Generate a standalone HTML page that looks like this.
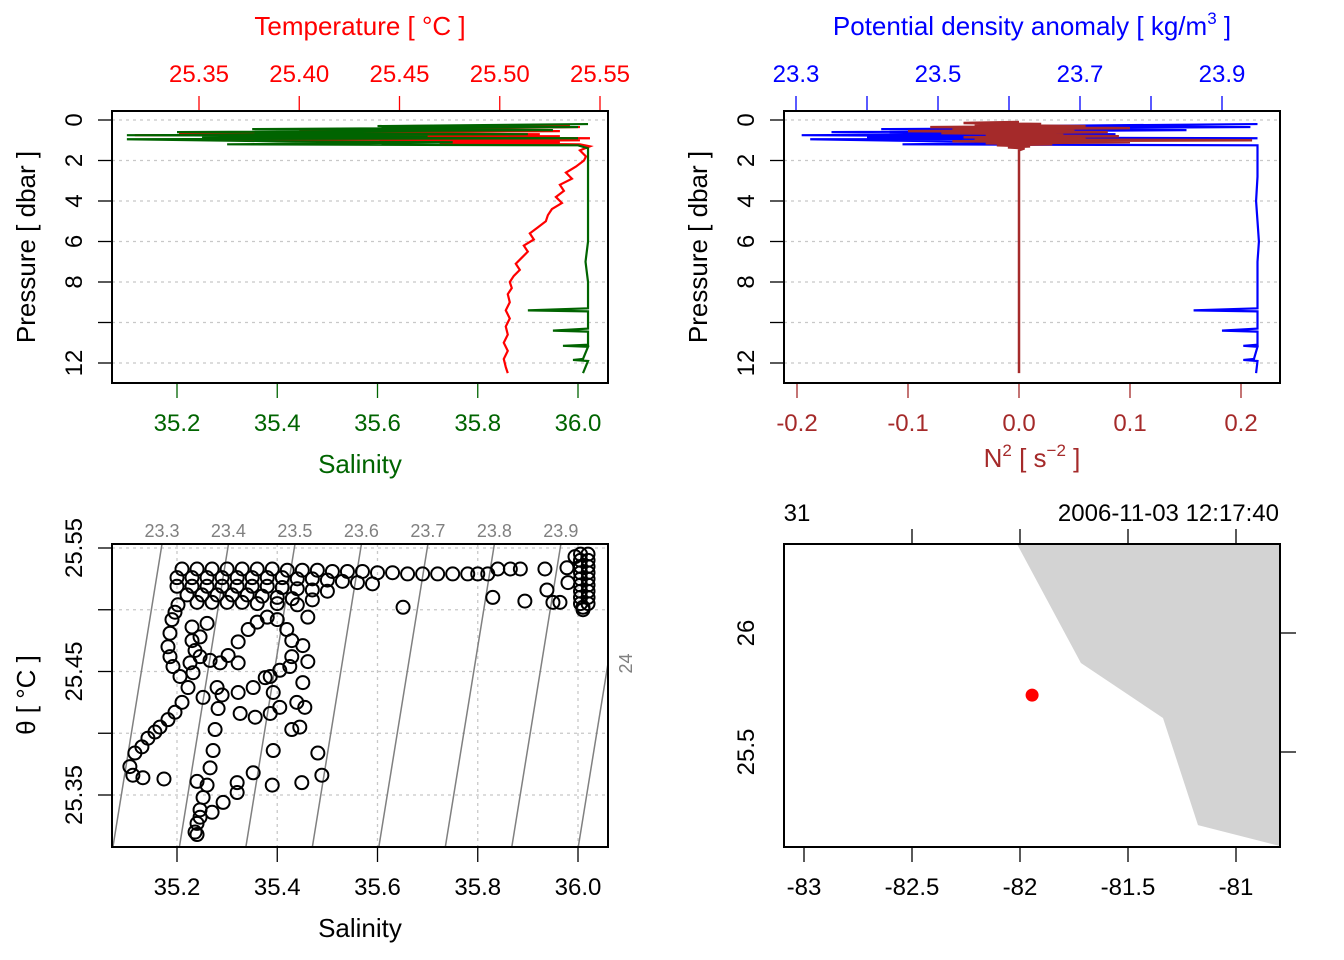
<!DOCTYPE html>
<html><head><meta charset="utf-8"><style>
html,body{margin:0;padding:0;background:#fff}
svg{display:block;font-family:"Liberation Sans",Arial,sans-serif}
</style></head><body>
<svg id="fig" width="1344" height="960" viewBox="0 0 1344 960" xmlns="http://www.w3.org/2000/svg">
<defs>
<clipPath id="c1"><rect x="112" y="111" width="496" height="272"/></clipPath>
<clipPath id="c2"><rect x="784" y="111" width="496" height="272"/></clipPath>
<clipPath id="c3"><rect x="112" y="544" width="496" height="303"/></clipPath>
<clipPath id="c4"><rect x="784" y="544" width="496" height="303"/></clipPath>
</defs>
</svg>
<script>
// ---------- data ----------
const pressureTicks=[0,2,4,6,8,10,12];
const pressureLabels=["0","2","4","6","8","","12"];
const salTicks=[35.2,35.4,35.6,35.8,36.0];
const salLabels=["35.2","35.4","35.6","35.8","36.0"];
const tempTicks=[25.35,25.40,25.45,25.50,25.55];
const tempLabels=["25.35","25.40","25.45","25.50","25.55"];
const sigTicks=[23.3,23.4,23.5,23.6,23.7,23.8,23.9];
const sigLabels=["23.3","","23.5","","23.7","","23.9"];
const n2Ticks=[-0.2,-0.1,0.0,0.1,0.2];
const n2Labels=["-0.2","-0.1","0.0","0.1","0.2"];
const thetaTicks=[25.55,25.50,25.45,25.40,25.35];
const thetaLabels=["25.55","","25.45","","25.35"];
const isoLevels=[23.3,23.4,23.5,23.6,23.7,23.8,23.9,24.0];
const isoLabels=["23.3","23.4","23.5","23.6","23.7","23.8","23.9","24"];
const lonTicks=[-83,-82.5,-82,-81.5,-81];
const lonLabels=["-83","-82.5","-82","-81.5","-81"];
const latTicks=[26,25.5];
const latLabels=["26","25.5"];

const tempP=[0.25,0.3,0.35,0.5,0.55,0.65,0.7,0.75,0.8,0.85,0.9,0.95,1.0,1.05,1.1,1.15,1.2,1.3,1.5,1.8,2.0,2.3,2.6,2.9,3.2,3.5,3.8,4.1,4.4,4.7,5.0,5.3,5.6,5.9,6.2,6.5,6.8,7.1,7.4,7.7,8.0,8.3,8.6,9.0,9.4,9.8,10.2,10.6,11.0,11.4,11.8,12.2,12.5];
const tempT=[25.535,25.45,25.54,25.40,25.53,25.34,25.52,25.318,25.53,25.42,25.545,25.35,25.54,25.44,25.53,25.47,25.54,25.545,25.54,25.543,25.542,25.538,25.533,25.536,25.53,25.532,25.528,25.531,25.526,25.524,25.523,25.519,25.515,25.517,25.512,25.514,25.511,25.508,25.510,25.507,25.505,25.506,25.504,25.505,25.503,25.505,25.503,25.504,25.502,25.504,25.502,25.503,25.504];

const salP=[0.2,0.3,0.35,0.45,0.5,0.6,0.7,0.75,0.8,0.85,0.9,0.95,1.05,1.1,1.2,1.25,1.4,2,3,4,5,6,7,8,9.3,9.4,9.45,10.3,10.4,10.45,11.1,11.15,11.2,11.8,11.85,11.9,12.5];
const salS=[36.02,35.6,36.0,35.35,35.95,35.2,35.9,35.1,35.7,35.25,36.0,35.1,35.4,35.75,35.3,36.0,36.02,36.02,36.02,36.02,36.02,36.02,36.015,36.02,36.02,35.9,36.02,36.02,35.95,36.02,36.02,35.97,36.02,36.01,35.99,36.02,36.01];

const sigP=[0.2,0.3,0.35,0.45,0.5,0.6,0.7,0.75,0.8,0.85,0.9,0.95,1.05,1.1,1.2,1.25,1.4,2,2.8,4,5,6,7,8,9.3,9.4,9.45,10.3,10.4,10.45,11.1,11.15,11.2,11.8,11.85,11.9,12.5];
const sigV=[23.95,23.62,23.94,23.42,23.85,23.35,23.75,23.308,23.62,23.40,23.95,23.32,23.50,23.70,23.45,23.95,23.95,23.95,23.95,23.948,23.95,23.952,23.95,23.95,23.95,23.86,23.95,23.95,23.90,23.95,23.95,23.93,23.95,23.945,23.93,23.95,23.948];

const n2P=[0.1,0.15,0.2,0.25,0.3,0.35,0.4,0.45,0.5,0.55,0.6,0.65,0.7,0.75,0.8,0.85,0.9,0.95,1.0,1.05,1.1,1.15,1.2,1.25,1.3,1.35,1.4,1.5,2,4,6,8,10,12,12.5];
const n2V=[0.0,-0.05,0.02,-0.04,0.06,-0.08,0.1,-0.06,0.05,-0.1,0.08,-0.07,0.04,-0.03,0.09,-0.05,0.06,-0.04,0.21,-0.06,0.1,-0.03,0.03,-0.02,0.01,-0.01,0.005,0,0,0,0,0,0,0,0];

const tsS=[
35.21,35.24,35.27,35.30,35.33,35.36,35.39,35.42,35.45,35.48,35.51,35.54,35.57,35.60,35.63,35.66,35.69,35.72,35.75,35.78,35.80,35.82,
35.20,35.23,35.26,35.29,35.32,35.35,35.38,35.41,35.44,35.47,35.50,35.53,35.56,35.59,
35.20,35.23,35.26,35.29,35.32,35.35,35.38,35.41,35.44,35.47,35.50,
35.22,35.25,35.28,35.31,35.34,35.37,35.40,35.43,35.47,
35.24,35.27,35.30,35.33,35.36,35.40,35.44,
36.005,36.02,36.005,36.02,36.005,36.02,36.005,36.02,36.005,36.02,36.005,36.02,36.005,36.02,36.005,36.02,36.005,36.02,36.01,36.01,
35.202,35.196,35.190,35.186,35.182,35.186,35.192,35.206,35.222,35.210,35.196,35.182,35.166,35.156,35.142,35.130,35.116,35.106,35.112,35.132,35.174,
35.230,35.230,35.236,35.246,35.266,35.286,35.302,35.322,35.322,35.342,35.360,35.380,35.400,35.419,35.429,35.429,35.425,35.405,35.386,35.392,35.405,
35.451,35.461,35.461,35.451,35.439,35.455,35.445,35.429,35.392,35.481,35.489,35.449,35.390,35.352,35.320,35.320,35.292,35.270,35.252,35.260,35.240,
35.246,35.246,35.240,35.236,35.240,35.266,35.272,35.276,35.282,35.280,35.290,35.252,35.322,35.352,35.376,35.356,35.326,35.386,35.232,35.226,35.260,35.246,
35.651,35.830,35.894,35.938,35.934,35.978,35.980,35.950,35.964,35.994,35.84,35.865,35.885];
const tsT=[
25.533,25.533,25.533,25.533,25.533,25.533,25.533,25.532,25.532,25.532,25.531,25.531,25.531,25.530,25.530,25.529,25.529,25.529,25.529,25.529,25.529,25.529,
25.526,25.526,25.526,25.526,25.526,25.526,25.526,25.526,25.525,25.525,25.524,25.523,25.522,25.521,
25.519,25.519,25.519,25.519,25.519,25.519,25.519,25.518,25.517,25.516,25.515,
25.512,25.512,25.512,25.512,25.512,25.511,25.510,25.509,25.508,
25.506,25.506,25.506,25.506,25.505,25.505,25.504,
25.545,25.545,25.540,25.540,25.535,25.535,25.530,25.530,25.525,25.525,25.520,25.520,25.515,25.515,25.510,25.510,25.505,25.505,25.500,25.502,
25.504,25.498,25.492,25.481,25.470,25.462,25.454,25.446,25.437,25.425,25.417,25.411,25.405,25.401,25.396,25.389,25.384,25.373,25.366,25.364,25.363,
25.486,25.475,25.467,25.462,25.459,25.457,25.463,25.457,25.474,25.484,25.490,25.494,25.492,25.484,25.475,25.462,25.454,25.451,25.446,25.433,25.421,
25.471,25.494,25.458,25.441,25.425,25.421,25.405,25.403,25.386,25.384,25.366,25.360,25.358,25.368,25.360,25.352,25.344,25.336,25.348,25.358,25.361,
25.338,25.332,25.327,25.320,25.318,25.372,25.386,25.403,25.420,25.437,25.431,25.429,25.433,25.437,25.445,25.413,25.416,25.416,25.449,25.457,25.489,25.478,
25.502,25.510,25.507,25.516,25.533,25.534,25.522,25.506,25.506,25.543,25.533,25.533,25.533];

const landLon=[-82.3,-82.014,-81.718,-81.338,-81.176,-80.796,-80.6,-80.6];
const landLat=[26.9,26.374,25.874,25.643,25.193,25.105,25.0,26.9];
const stationLon=[-81.944];
const stationLat=[25.739];

// ---------- scales ----------
const xSal=s=>177+(s-35.2)*501.25;
const xTemp=t=>199+(t-25.35)*2005;
const yP=p=>120+p*20.25;
const xSig=s=>796+(s-23.3)*710;
const xN2=n=>1019+n*1110;
const yTh=t=>548+(25.55-t)*1235;
const xLon=l=>804+(l+83)*216;
const yLat=l=>633+(26-l)*238;
const sAt=(sig,th)=>35.170+((sig-23.3)+0.301*(th-25.553))/0.754;

const FS=24, TS=26;
const svg=document.getElementById('fig');
const NS='http://www.w3.org/2000/svg';
function mk(tag,attrs,parent){const e=document.createElementNS(NS,tag);for(const k in attrs)e.setAttribute(k,attrs[k]);(parent||svg).appendChild(e);return e;}
function txt(x,y,s,opt,parent){const e=mk('text',Object.assign({x:x,y:y,'font-size':FS,'text-anchor':'middle'},opt||{}),parent);e.textContent=s;return e;}
function grp(){return mk('g',{});}

// ===== Panel 1 =====
let g=grp();


pressureTicks.forEach((p,i)=>{
  mk('line',{x1:112,x2:608,y1:yP(p),y2:yP(p),stroke:'#c8c8c8','stroke-width':1.3,'stroke-dasharray':'3,4'},g);
  mk('line',{x1:112,x2:98,y1:yP(p),y2:yP(p),stroke:'#000','stroke-width':1.3},g);
  if(pressureLabels[i]){const t=txt(0,0,pressureLabels[i],{transform:'translate(82,'+yP(p)+') rotate(-90)'},g);
  }
});
let t=txt(0,0,'Pressure [ dbar ]',{'font-size':TS,transform:'translate(35,247) rotate(-90)'},g);

salTicks.forEach((s,i)=>{mk('line',{x1:xSal(s),x2:xSal(s),y1:383,y2:398,stroke:'#006400','stroke-width':1.3},g);
  const l=txt(xSal(s),431,salLabels[i],{fill:'#006400'},g);});
t=txt(360,473,'Salinity',{'font-size':TS,fill:'#006400'},g);
tempTicks.forEach((s,i)=>{mk('line',{x1:xTemp(s),x2:xTemp(s),y1:111,y2:96,stroke:'#ff0000','stroke-width':1.3},g);
  const l=txt(xTemp(s),82,tempLabels[i],{fill:'#ff0000'},g);});
t=txt(360,35,'Temperature [ °C ]',{'font-size':TS,fill:'#ff0000'},g);
let cg=mk('g',{'clip-path':'url(#c1)'},g);
let pl=mk('polyline',{points:tempP.map((p,i)=>xTemp(tempT[i])+','+yP(p)).join(' '),fill:'none',stroke:'#ff0000','stroke-width':2.2},cg);

pl=mk('polyline',{points:salP.map((p,i)=>xSal(salS[i])+','+yP(p)).join(' '),fill:'none',stroke:'#006400','stroke-width':2.2},cg);

let b=mk('rect',{x:112,y:111,width:496,height:272,fill:'none',stroke:'#000','stroke-width':2},g);


// ===== Panel 2 =====
g=grp();


pressureTicks.forEach((p,i)=>{
  mk('line',{x1:784,x2:1280,y1:yP(p),y2:yP(p),stroke:'#c8c8c8','stroke-width':1.3,'stroke-dasharray':'3,4'},g);
  mk('line',{x1:784,x2:770,y1:yP(p),y2:yP(p),stroke:'#000','stroke-width':1.3},g);
  if(pressureLabels[i]){const t=txt(0,0,pressureLabels[i],{transform:'translate(754,'+yP(p)+') rotate(-90)'},g);
  }
});
t=txt(0,0,'Pressure [ dbar ]',{'font-size':TS,transform:'translate(707,247) rotate(-90)'},g);

sigTicks.forEach((s,i)=>{mk('line',{x1:xSig(s),x2:xSig(s),y1:111,y2:96,stroke:'#0000ff','stroke-width':1.3},g);
  if(sigLabels[i]){const l=txt(xSig(s),82,sigLabels[i],{fill:'#0000ff'},g);}});
t=mk('text',{x:1032,y:35,'font-size':TS,'text-anchor':'middle',fill:'#0000ff'},g);
t.innerHTML='Potential density anomaly [ kg/m<tspan dy="-11" font-size="17">3</tspan><tspan dy="11"> ]</tspan>';

n2Ticks.forEach((s,i)=>{mk('line',{x1:xN2(s),x2:xN2(s),y1:383,y2:398,stroke:'#a52a2a','stroke-width':1.3},g);
  const l=txt(xN2(s),431,n2Labels[i],{fill:'#a52a2a'},g);});
t=mk('text',{x:1032,y:467,'font-size':TS,'text-anchor':'middle',fill:'#a52a2a'},g);
t.innerHTML='N<tspan dy="-11" font-size="17">2</tspan><tspan dy="11"> [ s</tspan><tspan dy="-11" font-size="17">−2</tspan><tspan dy="11"> ]</tspan>';

cg=mk('g',{'clip-path':'url(#c2)'},g);
pl=mk('polyline',{points:sigP.map((p,i)=>xSig(sigV[i])+','+yP(p)).join(' '),fill:'none',stroke:'#0000ff','stroke-width':2.2},cg);

pl=mk('polyline',{points:n2P.map((p,i)=>xN2(n2V[i])+','+yP(p)).join(' '),fill:'none',stroke:'#a52a2a','stroke-width':2.5},cg);

b=mk('rect',{x:784,y:111,width:496,height:272,fill:'none',stroke:'#000','stroke-width':2},g);


// ===== Panel 3 =====
g=grp();


salTicks.forEach(s=>mk('line',{x1:xSal(s),x2:xSal(s),y1:544,y2:847,stroke:'#c8c8c8','stroke-width':1.3,'stroke-dasharray':'3,4'},g));
thetaTicks.forEach(s=>mk('line',{x1:112,x2:608,y1:yTh(s),y2:yTh(s),stroke:'#c8c8c8','stroke-width':1.3,'stroke-dasharray':'3,4'},g));
salTicks.forEach((s,i)=>{mk('line',{x1:xSal(s),x2:xSal(s),y1:847,y2:862,stroke:'#000','stroke-width':1.3},g);
  const l=txt(xSal(s),895,salLabels[i],{},g);});
t=txt(360,937,'Salinity',{'font-size':TS},g);
thetaTicks.forEach((s,i)=>{mk('line',{x1:112,x2:98,y1:yTh(s),y2:yTh(s),stroke:'#000','stroke-width':1.3},g);
  if(thetaLabels[i]){const l=txt(0,0,thetaLabels[i],{transform:'translate(82,'+yTh(s)+') rotate(-90)'},g);}});
t=txt(0,0,'θ [ °C ]',{'font-size':TS,transform:'translate(35,695) rotate(-90)'},g);
cg=mk('g',{'clip-path':'url(#c3)'},g);
const thTop=25.553, thBot=25.3075;
isoLevels.forEach((lev,i)=>{
  const ln=mk('line',{x1:xSal(sAt(lev,thTop)),y1:yTh(thTop),x2:xSal(sAt(lev,thBot)),y2:yTh(thBot),stroke:'#808080','stroke-width':1.5},cg);
  
  const xt=xSal(sAt(lev,thTop));
  if(xt<608){const l=txt(xt,537,isoLabels[i],{fill:'#808080','font-size':18},g);}
  else{
    const th=thTop-((sAt(lev,thTop)-35.2-(608-177)/501.25)*0.754/0.301);
    const l=txt(0,0,isoLabels[i],{fill:'#808080','font-size':18,transform:'translate(632,'+yTh(th)+') rotate(-90)'},g);}
});
tsS.forEach((s,i)=>{const c=mk('circle',{cx:xSal(s),cy:yTh(tsT[i]),r:6.5,fill:'none',stroke:'#000','stroke-width':2},cg);
  });
b=mk('rect',{x:112,y:544,width:496,height:303,fill:'none',stroke:'#000','stroke-width':2},g);


// ===== Panel 4 =====
g=grp();


cg=mk('g',{'clip-path':'url(#c4)'},g);
let land=mk('polygon',{points:landLon.map((l,i)=>xLon(l)+','+yLat(landLat[i])).join(' '),fill:'#d3d3d3',stroke:'none'},cg);

stationLon.forEach((l,i)=>{const c=mk('circle',{cx:xLon(l),cy:yLat(stationLat[i]),r:6.5,fill:'#ff0000'},cg);
  });
lonTicks.forEach((l,i)=>{mk('line',{x1:xLon(l),x2:xLon(l),y1:847,y2:862,stroke:'#000','stroke-width':1.3},g);
  const lb=txt(xLon(l),895,lonLabels[i],{},g);
  if(i>0) mk('line',{x1:xLon(l),x2:xLon(l),y1:544,y2:529,stroke:'#000','stroke-width':1.3},g);});
latTicks.forEach((l,i)=>{mk('line',{x1:1280,x2:1296,y1:yLat(l),y2:yLat(l),stroke:'#000','stroke-width':1.3},g);
  const lb=txt(0,0,latLabels[i],{transform:'translate(754,'+yLat(l)+') rotate(-90)'},g);});
t=txt(797,521,'31',{},g);
t=txt(1279,521,'2006-11-03 12:17:40',{'text-anchor':'end'},g);
b=mk('rect',{x:784,y:544,width:496,height:303,fill:'none',stroke:'#000','stroke-width':2},g);

</script>
</body></html>
